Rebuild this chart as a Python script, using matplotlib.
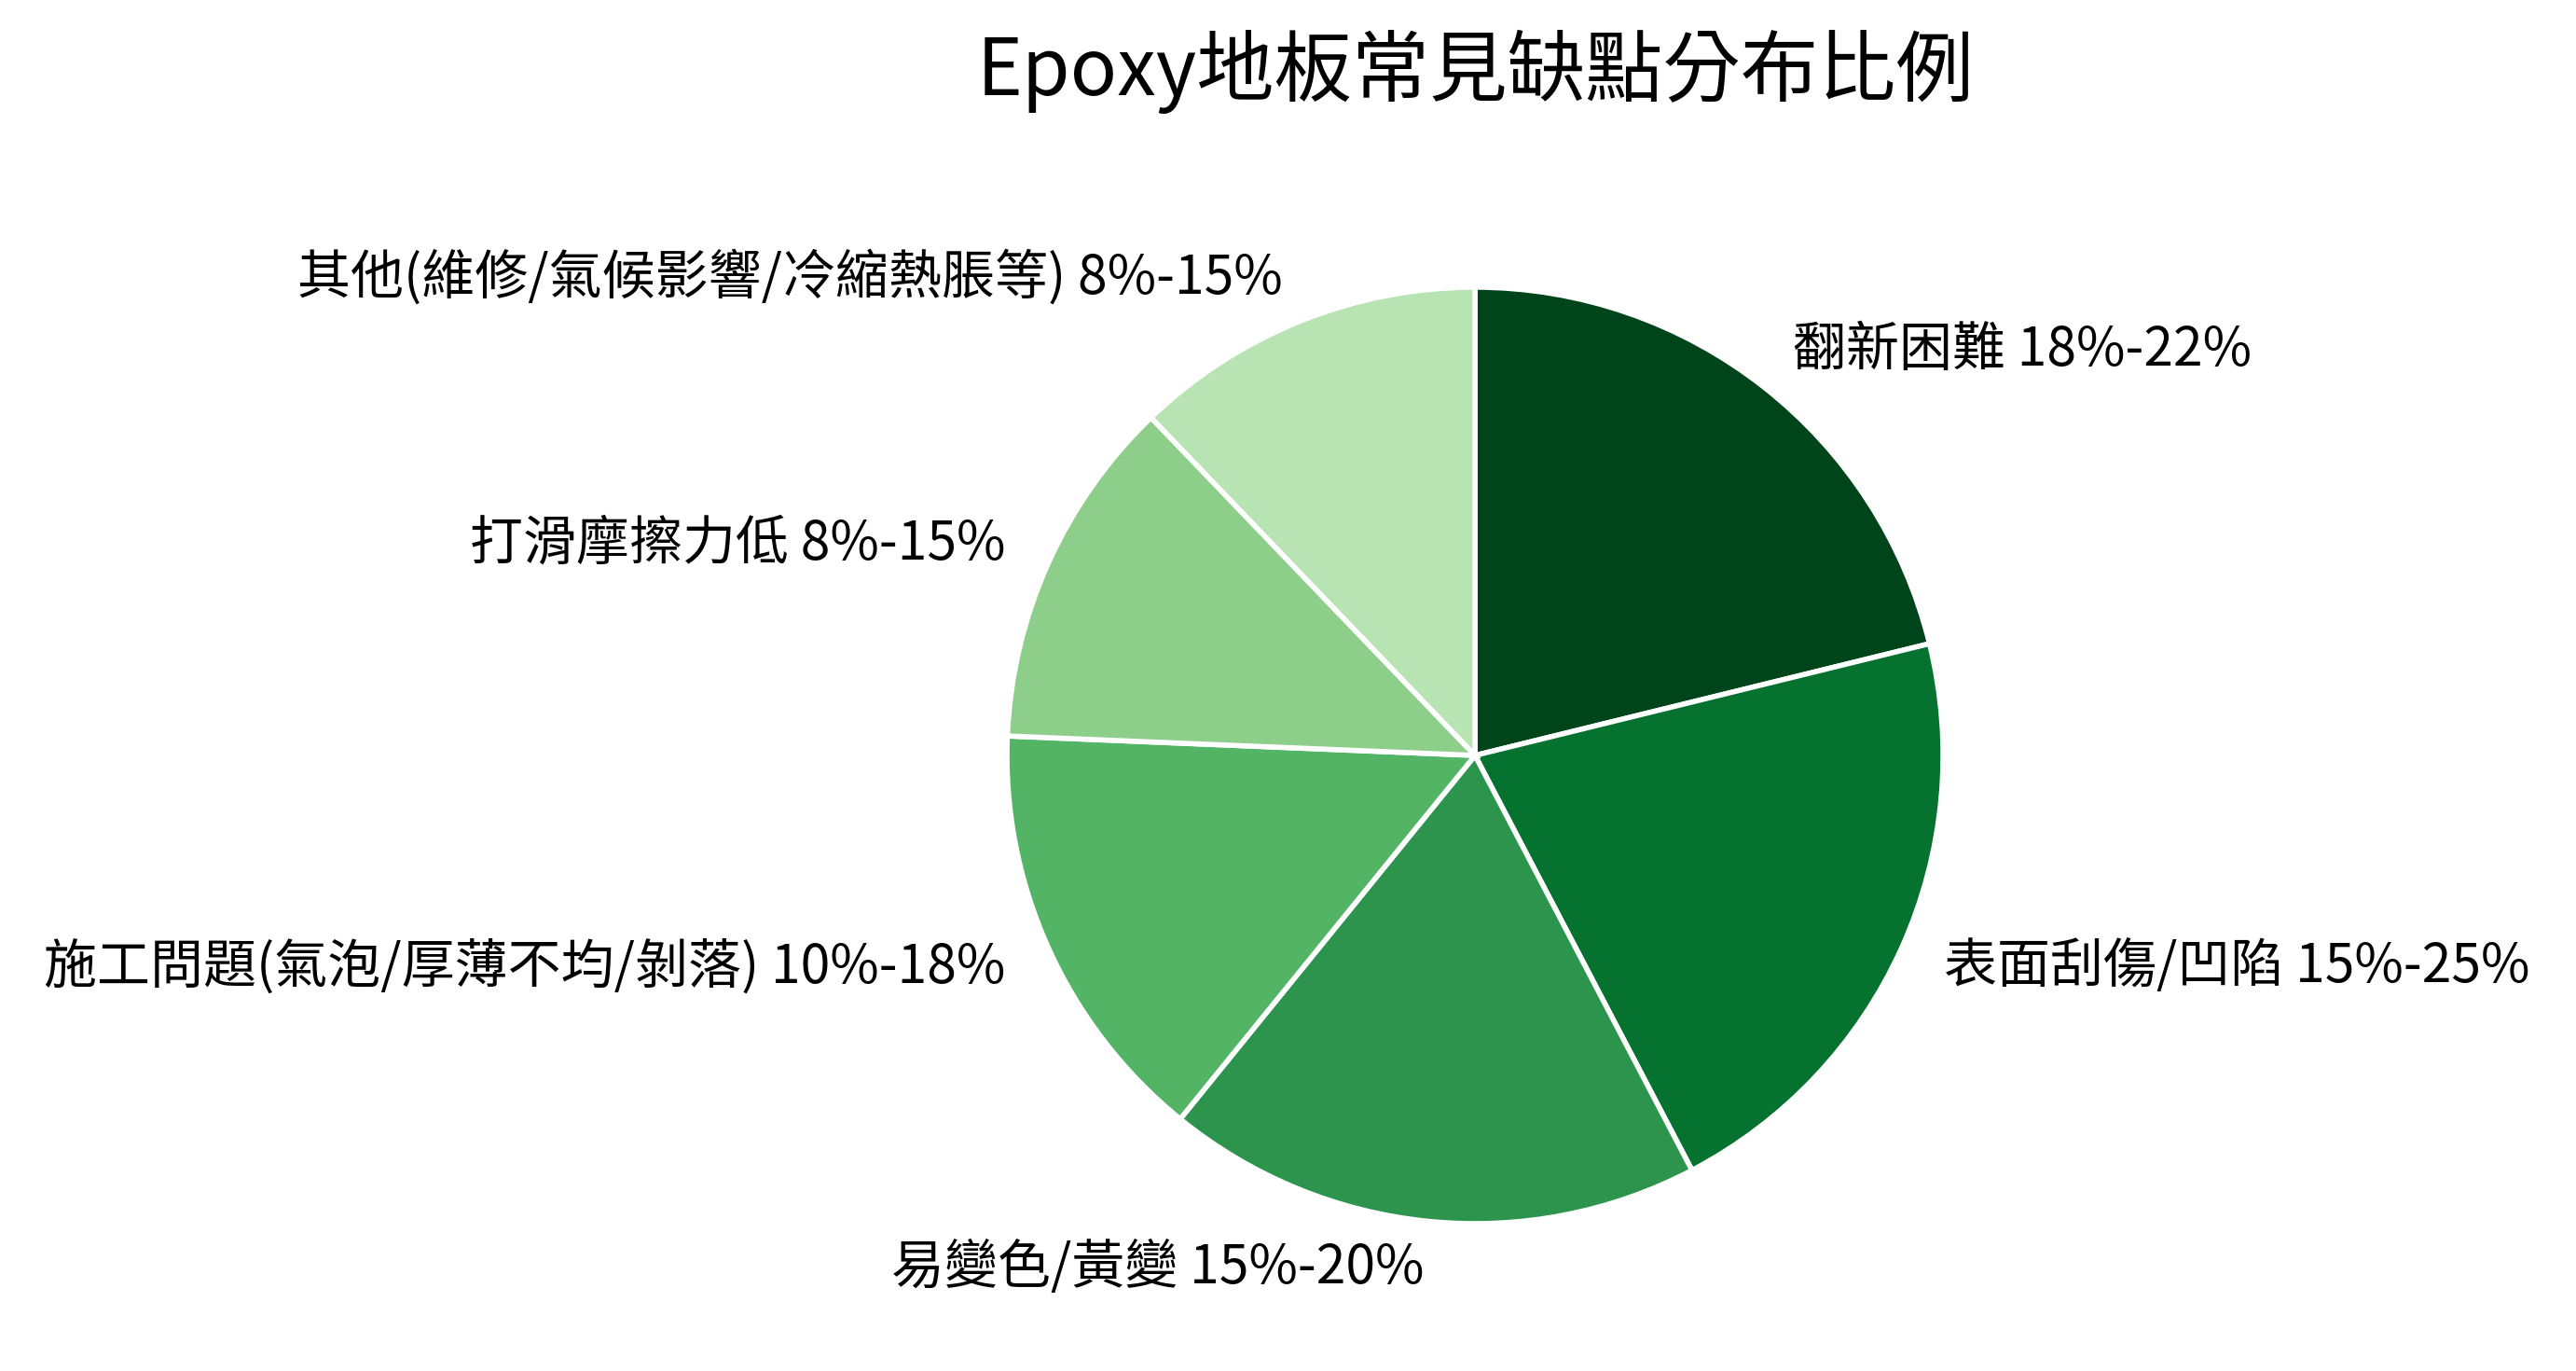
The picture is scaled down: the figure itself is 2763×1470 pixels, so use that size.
import matplotlib
matplotlib.use("Agg")
import matplotlib.pyplot as plt

plt.rcParams['font.family'] = ['Noto Sans CJK TC', 'DejaVu Sans']

labels = ["翻新困難 18%-22%", "表面刮傷/凹陷 15%-25%", "易變色/黃變 15%-20%",
          "施工問題(氣泡/厚薄不均/剝落) 10%-18%", "打滑摩擦力低 8%-15%",
          "其他(維修/氣候影響/冷縮熱脹等) 8%-15%"]
values = [20, 20, 17.5, 14, 11.5, 11.5]
colors = ["#00441b", "#067230", "#2c944c", "#54b466", "#8dcf8a", "#b8e3b2"]

fig = plt.figure(figsize=(27.63, 14.70), dpi=100)
ax = fig.add_axes([0.5726 - 0.3634/2, 0.449 - 0.683/2, 0.3634, 0.683])
ax.pie(values, labels=labels, colors=colors, startangle=90, counterclock=False,
       labeldistance=1.1, wedgeprops=dict(edgecolor="white", linewidth=4),
       textprops=dict(fontsize=41))
ax.set_xlim(-1, 1)
ax.set_ylim(-1, 1)
ax.set_aspect('equal')
fig.text(0.5726, 0.948, "Epoxy地板常見缺點分布比例", ha='center', va='center', fontsize=60)
fig.savefig("out.png", dpi=100)
